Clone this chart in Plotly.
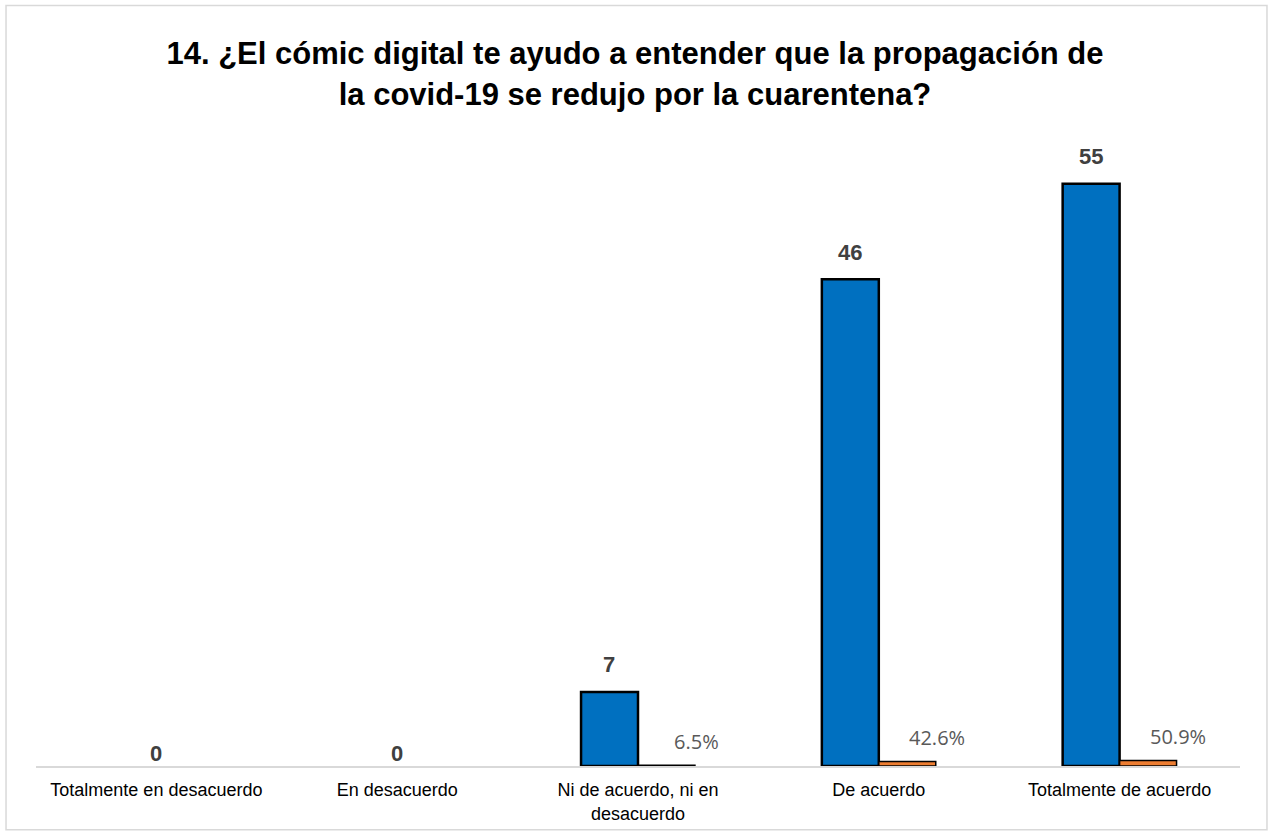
import plotly.graph_objects as go

# Survey answers for question 14
categories = [
    "Totalmente en desacuerdo",
    "En desacuerdo",
    "Ni de acuerdo, ni en<br>desacuerdo",
    "De acuerdo",
    "Totalmente de acuerdo",
]
counts = [0, 0, 7, 46, 55]
shares = [0.0, 0.0, 0.065, 0.426, 0.509]

title_text = ("14. ¿El cómic digital te ayudo a entender que la propagación de<br>"
              "la covid-19 se redujo por la cuarentena?")

BLUE = "#0070C0"
ORANGE = "#ED7D31"

fig = go.Figure()
fig.add_trace(go.Bar(
    x=categories, y=counts, name="Frecuencia",
    marker=dict(color=BLUE,
                line=dict(color="#000000", width=[2.5 if c > 0 else 0 for c in counts])),
    offsetgroup="a",
))
fig.add_trace(go.Bar(
    x=categories, y=shares, name="Porcentaje",
    marker=dict(color=ORANGE,
                line=dict(color="#000000", width=[1.5 if s > 0 else 0 for s in shares])),
    offsetgroup="b",
))

annotations = []
# count labels: above the blue bar, zero counts centred on the category
for cat, c in zip(categories, counts):
    annotations.append(dict(
        x=cat, y=c, xref="x", yref="y", text=f"<b>{c}</b>", showarrow=False,
        xshift=-29 if c > 0 else 0, yshift=27 if c > 0 else 13, yanchor="middle",
        font=dict(family="Arial, Liberation Sans", size=22, color="#404040"),
    ))
# percentage labels beside the orange bar
for cat, s in zip(categories, shares):
    if s > 0:
        annotations.append(dict(
            x=cat, y=s, xref="x", yref="y", text=f"{s*100:.1f}%", showarrow=False,
            xshift=58, yshift=24, yanchor="middle",
            font=dict(family="Open Sans, Noto Sans", size=20, color="#595959"),
        ))

fig.update_layout(
    width=1270, height=836,
    margin=dict(l=36, r=30, t=150, b=68),
    paper_bgcolor="#ffffff", plot_bgcolor="#ffffff",
    barmode="group", bargap=0.527, bargroupgap=0,
    showlegend=False,
    title=dict(
        text=f"<b>{title_text}</b>", x=0.5, xanchor="center", y=0.923, yanchor="middle",
        font=dict(family="Arial, Liberation Sans", size=31, color="#000000"),
    ),
    xaxis=dict(
        showline=True, linecolor="#D9D9D9", linewidth=1.5, ticks="", showgrid=False,
        ticklabelstandoff=7,
        tickfont=dict(family="Arial, Liberation Sans", size=18, color="#000000"),
    ),
    yaxis=dict(range=[0, 58.2], visible=False, showgrid=False, zeroline=False),
    annotations=annotations,
    shapes=[dict(
        type="rect", xref="paper", yref="paper",
        x0=-0.0249, x1=1.0224, y0=-0.1036, y1=1.2346,
        line=dict(color="#D9D9D9", width=1.5), fillcolor="rgba(0,0,0,0)", layer="below",
    )],
)

fig.write_html("out.html")
